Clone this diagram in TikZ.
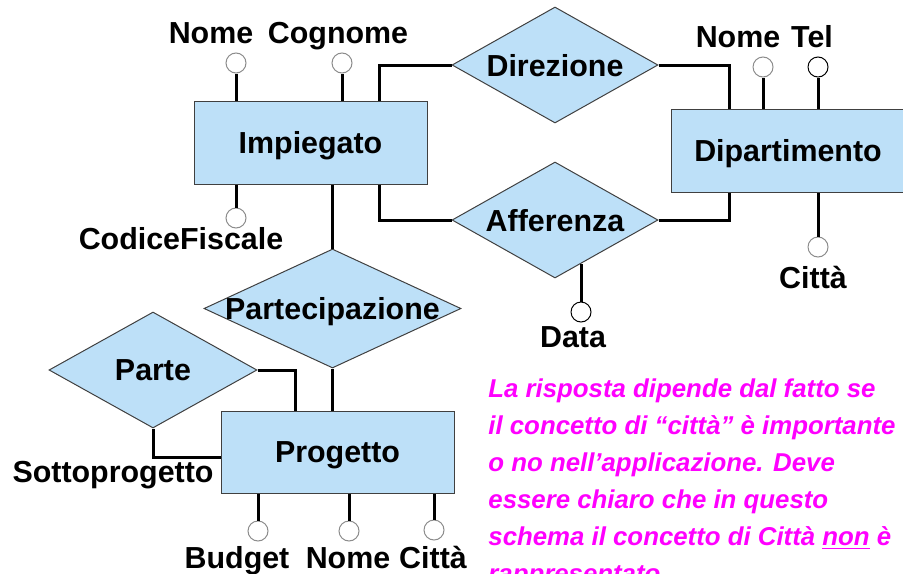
\documentclass[tikz,border=0pt]{standalone}
\usepackage{fontspec}
\setmainfont{Liberation Sans}
\usetikzlibrary{shapes.geometric, positioning}
\definecolor{entityblue}{RGB}{189,224,248}
\definecolor{notemagenta}{RGB}{255,0,255}

\begin{document}
\begin{tikzpicture}[
    x=0.5pt, y=-0.5pt,
    every node/.style={font=\bfseries\fontsize{15.2}{18}\selectfont},
    entity/.style={rectangle, minimum width=116.5pt, minimum height=41.5pt,
                   draw=black!75, line width=0.5pt, fill=entityblue, text depth=0pt},
    relation/.style={diamond, inner sep=0pt, draw=black!75, line width=0.5pt,
                     fill=entityblue, label={[text depth=0pt]center:#1}},
    attr/.style={circle, minimum size=10pt, inner sep=0pt, draw=black!45,
                 fill=white, line width=0.5pt},
    keyattr/.style={attr, draw=black},
    attrname/.style={anchor=base, inner sep=0pt},
    link/.style={line width=1.5pt}
]
\useasboundingbox (0,0) rectangle (903,573);

% entities
\node (impiegato) [entity] at (310.5,142.5) {Impiegato};
\node (dipartimento) [entity, minimum width=117pt] at (788,150.5) {Dipartimento};
\node (progetto) [entity, minimum height=41pt] at (337.5,452) {Progetto};

% relationships
\node (direzione) [relation=Direzione, minimum width=103pt, minimum height=58pt] at (555,65) {};
\node (afferenza) [relation=Afferenza, minimum width=103pt, minimum height=58pt] at (555,220) {};
\node (partecipazione) [relation=Partecipazione, minimum width=128.5pt, minimum height=59.5pt] at (332.5,308.5) {};
\node (parte) [relation=Parte, minimum width=104pt, minimum height=58pt] at (153,370) {};

% attributes
\node (imp-nome) [attr] at (236,63) {};
\node (imp-cognome) [attr] at (342,63) {};
\node (imp-cf) [attr] at (236,218) {};
\node (dip-nome) [attr] at (763,67) {};
\node (dip-tel) [keyattr] at (818,67) {};
\node (dip-citta) [attr] at (818,247) {};
\node (aff-data) [keyattr] at (581,312) {};
\node (prog-budget) [attr] at (258,531) {};
\node (prog-nome) [attr] at (349,531) {};
\node (prog-citta) [attr] at (434,530) {};

\node [attrname] at (211,43) {Nome};
\node [attrname] at (338,43) {Cognome};
\node [attrname] at (181,249) {CodiceFiscale};
\node [attrname] at (738,47) {Nome};
\node [attrname] at (812,47) {Tel};
\node [attrname] at (813,288) {Città};
\node [attrname] at (573,347) {Data};
\node [attrname] at (113,482) {Sottoprogetto};
\node [attrname] at (237,568) {Budget};
\node [attrname] at (348,568) {Nome};
\node [attrname] at (433,568) {Città};

% links
\draw [link] ([xshift=34.25pt]impiegato.north) |- (direzione.west);
\draw [link] (direzione.east) -| ([xshift=-29.5pt]dipartimento.north);
\draw [link] ([xshift=34.25pt]impiegato.south) |- (afferenza.west);
\draw [link] (afferenza.east) -| ([xshift=-29.5pt]dipartimento.south);
\draw [link] (impiegato.south -| partecipazione.north) -- (partecipazione.north);
\draw [link] (partecipazione.south) -- (partecipazione.south |- progetto.north);
\draw [link] (parte.east) -| ([xshift=-21.25pt]progetto.north);
\draw [link] (parte.south) |- ([yshift=-2.5pt]progetto.west);

\draw [link] (imp-nome) -- (imp-nome |- impiegato.north);
\draw [link] (imp-cognome) -- (imp-cognome |- impiegato.north);
\draw [link] (imp-cf) -- (imp-cf |- impiegato.south);
\draw [link] (dip-nome) -- (dip-nome |- dipartimento.north);
\draw [link] (dip-tel) -- (dip-tel |- dipartimento.north);
\draw [link] (dip-citta) -- (dip-citta |- dipartimento.south);
\draw [link] (aff-data) -- (aff-data |- afferenza.-59);
\draw [link] (prog-budget) -- (prog-budget |- progetto.south);
\draw [link] (prog-nome) -- (prog-nome |- progetto.south);
\draw [link] (prog-citta) -- (prog-citta |- progetto.south);

% note
\node (nota) [anchor=north west, inner sep=0pt, align=left, text=notemagenta,
              font=\bfseries\itshape\fontsize{12.9}{18.5}\selectfont] at (488,378)
  {La risposta dipende dal fatto se\\
   il concetto di “città” è importante\\
   o no nell’applicazione. Deve\\
   essere chiaro che in questo\\
   schema il concetto di Città \underline{non} è\\
   rappresentato};

\end{tikzpicture}
\end{document}
